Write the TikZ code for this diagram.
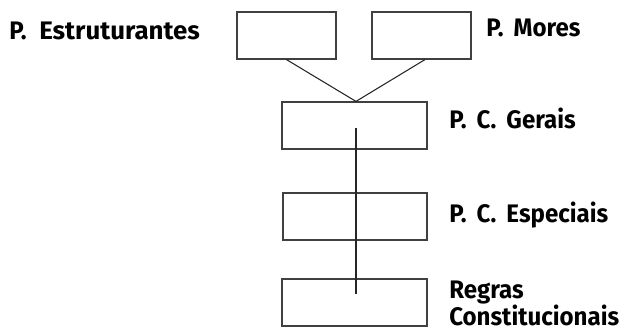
\documentclass[tikz,border=0pt]{standalone}
\usepackage{fontspec}
\setmainfont{Fira Sans}[FakeStretch=0.95]
\newfontfamily\widefont{Fira Sans}[FakeStretch=1.02]
\newcommand{\gp}{\hspace{0.4em}}
\begin{document}
\begin{tikzpicture}[x=0.75pt,y=-0.75pt,
  box/.style={draw=black!75,line width=0.9pt,minimum width=#1*0.75pt,minimum height=35.25pt,inner sep=0pt},
  lbl/.style={font=\bfseries\fontsize{19pt}{20.25pt}\selectfont,anchor=base west,inner sep=0pt,align=left},
  link/.style={draw=black!85,line width=0.8pt}]
\useasboundingbox (0,0) rectangle (624,331);
\node[box=99] (b1) at (286.5,35.5) {};
\node[box=99] (b2) at (421.5,35.5) {};
\node[box=145] (b3) at (354.5,125.5) {};
\node[box=144] (b4) at (355,216.5) {};
\node[box=145] (b5) at (354.5,302.5) {};
\coordinate (vtop) at (356,128);
\coordinate (vbot) at (356,294);
\draw[link] (b1.south) -- ([xshift=1.1pt]b3.north);
\draw[link] ([xshift=2.6pt]b2.south) -- ([xshift=1.1pt]b3.north);
\draw[link] (vtop) -- (vbot);
\node[lbl] (t1) at (9,40) {P.\hspace{0.5em}{\widefont\bfseries Estruturantes}};
\node[lbl] (t2) at (486,37) {P.\gp Mores};
\node[lbl] (t3) at (449,129) {P.\gp C.\gp Gerais};
\node[lbl] (t4) at (449,223) {P.\gp C.\gp Especiais};
\node[lbl] (t5) at (449,325) {Regras\\Constitucionais};
\end{tikzpicture}
\end{document}
